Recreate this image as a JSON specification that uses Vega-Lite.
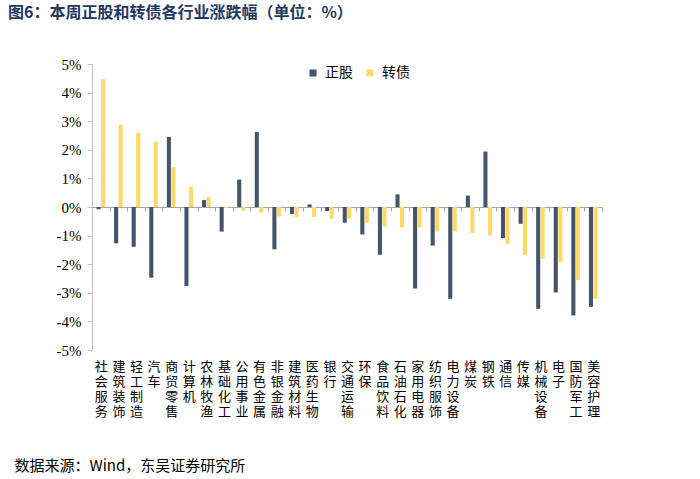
{
  "$schema": "https://vega.github.io/schema/vega-lite/v6.json",
  "width": 510,
  "height": 286,
  "autosize": {"type": "none"},
  "padding": {"left": 92, "top": 64, "right": 98, "bottom": 129},
  "background": "white",
  "title": {
    "text": "图6：本周正股和转债各行业涨跌幅（单位：%）",
    "anchor": "start",
    "frame": "group",
    "dx": -84,
    "offset": 36,
    "font": "Noto Sans CJK SC",
    "fontSize": 16,
    "fontWeight": "bold",
    "color": "#1F3864"
  },
  "config": {"view": {"stroke": null}},
  "data": {
    "values": [
      {"industry": "社会服务", "type": "正股", "value": -0.08},
      {"industry": "社会服务", "type": "转债", "value": 4.47},
      {"industry": "建筑装饰", "type": "正股", "value": -1.27},
      {"industry": "建筑装饰", "type": "转债", "value": 2.88},
      {"industry": "轻工制造", "type": "正股", "value": -1.39},
      {"industry": "轻工制造", "type": "转债", "value": 2.6},
      {"industry": "汽车", "type": "正股", "value": -2.47},
      {"industry": "汽车", "type": "转债", "value": 2.29},
      {"industry": "商贸零售", "type": "正股", "value": 2.45},
      {"industry": "商贸零售", "type": "转债", "value": 1.4},
      {"industry": "计算机", "type": "正股", "value": -2.76},
      {"industry": "计算机", "type": "转债", "value": 0.71},
      {"industry": "农林牧渔", "type": "正股", "value": 0.24},
      {"industry": "农林牧渔", "type": "转债", "value": 0.36},
      {"industry": "基础化工", "type": "正股", "value": -0.86},
      {"industry": "基础化工", "type": "转债", "value": -0.04},
      {"industry": "公用事业", "type": "正股", "value": 0.96},
      {"industry": "公用事业", "type": "转债", "value": -0.13},
      {"industry": "有色金属", "type": "正股", "value": 2.62},
      {"industry": "有色金属", "type": "转债", "value": -0.19},
      {"industry": "非银金融", "type": "正股", "value": -1.48},
      {"industry": "非银金融", "type": "转债", "value": -0.33},
      {"industry": "建筑材料", "type": "正股", "value": -0.24},
      {"industry": "建筑材料", "type": "转债", "value": -0.35},
      {"industry": "医药生物", "type": "正股", "value": 0.09},
      {"industry": "医药生物", "type": "转债", "value": -0.35},
      {"industry": "银行", "type": "正股", "value": -0.14},
      {"industry": "银行", "type": "转债", "value": -0.41},
      {"industry": "交通运输", "type": "正股", "value": -0.55},
      {"industry": "交通运输", "type": "转债", "value": -0.41},
      {"industry": "环保", "type": "正股", "value": -0.96},
      {"industry": "环保", "type": "转债", "value": -0.55},
      {"industry": "食品饮料", "type": "正股", "value": -1.67},
      {"industry": "食品饮料", "type": "转债", "value": -0.68},
      {"industry": "石油石化", "type": "正股", "value": 0.44},
      {"industry": "石油石化", "type": "转债", "value": -0.72},
      {"industry": "家用电器", "type": "正股", "value": -2.85},
      {"industry": "家用电器", "type": "转债", "value": -0.72},
      {"industry": "纺织服饰", "type": "正股", "value": -1.35},
      {"industry": "纺织服饰", "type": "转债", "value": -0.86},
      {"industry": "电力设备", "type": "正股", "value": -3.21},
      {"industry": "电力设备", "type": "转债", "value": -0.86},
      {"industry": "煤炭", "type": "正股", "value": 0.4},
      {"industry": "煤炭", "type": "转债", "value": -0.91},
      {"industry": "钢铁", "type": "正股", "value": 1.94},
      {"industry": "钢铁", "type": "转债", "value": -1.0},
      {"industry": "通信", "type": "正股", "value": -1.09},
      {"industry": "通信", "type": "转债", "value": -1.29},
      {"industry": "传媒", "type": "正股", "value": -0.59},
      {"industry": "传媒", "type": "转债", "value": -1.68},
      {"industry": "机械设备", "type": "正股", "value": -3.56},
      {"industry": "机械设备", "type": "转债", "value": -1.8},
      {"industry": "电子", "type": "正股", "value": -2.99},
      {"industry": "电子", "type": "转债", "value": -1.93},
      {"industry": "国防军工", "type": "正股", "value": -3.79},
      {"industry": "国防军工", "type": "转债", "value": -2.55},
      {"industry": "美容护理", "type": "正股", "value": -3.49},
      {"industry": "美容护理", "type": "转债", "value": -3.2}
    ]
  },
  "mark": {"type": "bar"},
  "encoding": {
    "x": {
      "field": "industry",
      "type": "nominal",
      "sort": null,
      "scale": {"paddingInner": 0, "paddingOuter": 0},
      "axis": {
        "orient": "bottom",
        "offset": -143,
        "domainColor": "#A6A6A6",
        "tickColor": "#A6A6A6",
        "tickSize": 4,
        "tickBand": "extent",
        "labelPadding": 149,
        "labelExpr": "split(datum.label, '')",
        "labelAngle": 0,
        "labelOverlap": false,
        "labelFont": "Noto Sans CJK SC",
        "labelFontSize": 13,
        "labelLineHeight": 15.3,
        "labelColor": "#000000",
        "title": "数据来源：Wind，东吴证券研究所",
        "titleAnchor": "start",
        "titleAlign": "left",
        "titleX": -78,
        "titleY": 258,
        "titleBaseline": "middle",
        "titleFont": "Noto Sans CJK SC",
        "titleFontSize": 15,
        "titleFontWeight": "normal",
        "titleColor": "#000000"
      }
    },
    "xOffset": {
      "field": "type",
      "type": "nominal",
      "sort": ["正股", "转债"],
      "scale": {"paddingInner": 0.1, "paddingOuter": 1}
    },
    "y": {
      "field": "value",
      "type": "quantitative",
      "scale": {"domain": [-5, 5], "nice": false},
      "axis": {
        "values": [-5, -4, -3, -2, -1, 0, 1, 2, 3, 4, 5],
        "labelExpr": "datum.value + '%'",
        "domainColor": "#BFBFBF",
        "tickColor": "#BFBFBF",
        "tickSize": 5,
        "labelPadding": 6,
        "labelFont": "Liberation Serif, Times New Roman, serif",
        "labelFontSize": 15,
        "labelColor": "#000000",
        "grid": false,
        "title": null
      }
    },
    "color": {
      "field": "type",
      "type": "nominal",
      "scale": {"domain": ["正股", "转债"], "range": ["#44546A", "#FFD966"]},
      "legend": {
        "orient": "none",
        "legendX": 214,
        "legendY": 2,
        "direction": "horizontal",
        "title": null,
        "symbolType": "square",
        "symbolSize": 50,
        "symbolStrokeWidth": 0,
        "labelFont": "Noto Sans CJK SC",
        "labelFontSize": 14,
        "labelOffset": 5,
        "columnPadding": 10,
        "labelColor": "#000000"
      }
    }
  }
}
